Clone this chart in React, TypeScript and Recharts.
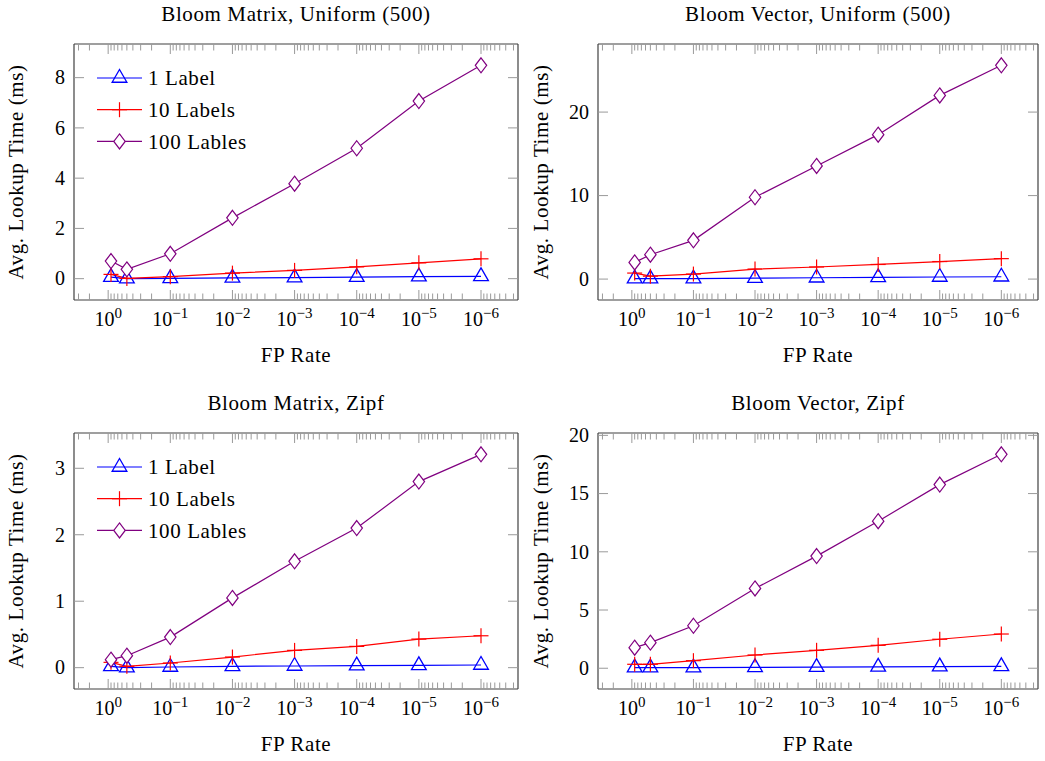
import { LineChart, Line, XAxis, YAxis, Legend } from "recharts";

// false-positive rates used on the x axis (log scale, decreasing to the right)
const fpRates = [0.9, 0.5, 0.1, 0.01, 0.001, 0.0001, 0.00001, 0.000001];

// Bloom Matrix, Uniform (500)
const matrixUniform1 = [0.06, 0.0, 0.01, 0.03, 0.04, 0.06, 0.08, 0.09];
const matrixUniform10 = [0.17, 0.01, 0.08, 0.22, 0.33, 0.47, 0.63, 0.79];
const matrixUniform100 = [0.7, 0.37, 0.99, 2.42, 3.78, 5.19, 7.07, 8.49];

// Bloom Vector, Uniform (500)
const vectorUniform1 = [0.05, 0.05, 0.06, 0.12, 0.16, 0.2, 0.25, 0.28];
const vectorUniform10 = [0.72, 0.35, 0.6, 1.2, 1.45, 1.75, 2.1, 2.45];
const vectorUniform100 = [2.0, 2.92, 4.64, 9.8, 13.55, 17.3, 22.0, 25.6];

// Bloom Matrix, Zipf
const matrixZipf1 = [0.02, 0.0, 0.01, 0.02, 0.025, 0.03, 0.035, 0.04];
const matrixZipf10 = [0.08, 0.02, 0.07, 0.16, 0.26, 0.32, 0.43, 0.48];
const matrixZipf100 = [0.12, 0.18, 0.46, 1.05, 1.6, 2.1, 2.8, 3.21];

// Bloom Vector, Zipf
const vectorZipf1 = [0.05, 0.05, 0.06, 0.08, 0.1, 0.12, 0.14, 0.16];
const vectorZipf10 = [0.34, 0.34, 0.65, 1.14, 1.54, 1.97, 2.49, 2.94];
const vectorZipf100 = [1.77, 2.2, 3.65, 6.85, 9.63, 12.63, 15.77, 18.37];

const seriesNames = ["1 Label", "10 Labels", "100 Lables"];
const seriesColors = ["#0000ff", "#ff0000", "#800080"];

const decadeTicks = [1, 0.1, 0.01, 0.001, 0.0001, 0.00001, 0.000001];
const decadeExponents = ["0", "\u22121", "\u22122", "\u22123", "\u22124", "\u22125", "\u22126"];

const matrixUniformTicks = [0, 2, 4, 6, 8];
const vectorUniformTicks = [0, 10, 20];
const matrixZipfTicks = [0, 1, 2, 3];
const vectorZipfTicks = [0, 5, 10, 15, 20];

const FONT = "'Liberation Serif', 'Times New Roman', serif";
const TEXT_SIZE = 21;
const TEXT_SPACING = 0.6;
const FRAME = { stroke: "#404040", strokeWidth: 1.2 };
const TICK_COLOR = "#9a9a9a";
const MAJOR = 10;
const MINOR = 6.5;

// axis limits enlarged by 10% of the data range, like pgfplots does
function logLimits(xs: number[]): [number, number] {
  const l = xs.map(Math.log10);
  const lo = Math.min(...l);
  const hi = Math.max(...l);
  const pad = (hi - lo) * 0.1;
  return [10 ** (lo - pad), 10 ** (hi + pad)];
}

function linearLimits(values: number[]): [number, number] {
  const lo = Math.min(...values);
  const hi = Math.max(...values);
  const pad = (hi - lo) * 0.1;
  return [lo - pad, hi + pad];
}

const xDomain = logLimits(fpRates);

// major decade ticks plus the 2..9 minor ticks in every decade
const xTicks: number[] = [];
for (let d = 1; d >= -7; d--) {
  for (let k = 1; k <= 9; k++) {
    const v = k * 10 ** d;
    if (v >= xDomain[0] && v <= xDomain[1]) xTicks.push(Number(v.toPrecision(6)));
  }
}

function isDecade(v: number) {
  const l = Math.log10(v);
  return Math.abs(l - Math.round(l)) < 1e-6;
}

function exponentOf(v: number) {
  const i = decadeTicks.findIndex((t) => Math.abs(Math.log10(t) - Math.log10(v)) < 1e-6);
  return i >= 0 ? decadeExponents[i] : "";
}

function BottomTick(props: any) {
  const { x, y, payload } = props;
  const major = isDecade(payload.value);
  return (
    <g>
      <line x1={x} x2={x} y1={y} y2={y - (major ? MAJOR : MINOR)} stroke={TICK_COLOR} strokeWidth={1} />
      {major && (
        <text x={x} y={y + 26} textAnchor="middle" fontSize={20} fill="#000" fontFamily={FONT}>
          <tspan>10</tspan>
          <tspan dy={-8} fontSize={15}>
            {exponentOf(payload.value)}
          </tspan>
        </text>
      )}
    </g>
  );
}

function TopTick(props: any) {
  const { x, y, payload } = props;
  const major = isDecade(payload.value);
  return <line x1={x} x2={x} y1={y} y2={y + (major ? MAJOR : MINOR)} stroke={TICK_COLOR} strokeWidth={1} />;
}

function LeftTick(props: any) {
  const { x, y, payload } = props;
  return (
    <g>
      <line x1={x} x2={x + MAJOR} y1={y} y2={y} stroke={TICK_COLOR} strokeWidth={1} />
      <text x={x - 9} y={y} dy="0.34em" textAnchor="end" fontSize={20} fill="#000" fontFamily={FONT}>
        {payload.value}
      </text>
    </g>
  );
}

function RightTick(props: any) {
  const { x, y } = props;
  return <line x1={x} x2={x - MAJOR} y1={y} y2={y} stroke={TICK_COLOR} strokeWidth={1} />;
}

function Marker({ kind, cx, cy, color }: { kind: number; cx: number; cy: number; color: string }) {
  if (kind === 0) {
    const r = 8.5;
    const pts = [
      [cx, cy - r],
      [cx - r * 0.866, cy + r / 2],
      [cx + r * 0.866, cy + r / 2],
    ]
      .map((p) => p.join(","))
      .join(" ");
    return <polygon points={pts} fill="none" stroke={color} strokeWidth={1.3} />;
  }
  if (kind === 1) {
    const r = 7.5;
    return (
      <g stroke={color} strokeWidth={1.2}>
        <line x1={cx - r} x2={cx + r} y1={cy} y2={cy} />
        <line x1={cx} x2={cx} y1={cy - r} y2={cy + r} />
      </g>
    );
  }
  const rx = 5.7;
  const ry = 7.5;
  const pts = `${cx},${cy - ry} ${cx + rx},${cy} ${cx},${cy + ry} ${cx - rx},${cy}`;
  return <polygon points={pts} fill="#fff" stroke={color} strokeWidth={1.2} />;
}

const seriesKeys = ["one", "ten", "hundred"];

function LegendBox({ payload }: any) {
  const items = (payload || []) as any[];
  return (
    <svg width={180} height={90} style={{ overflow: "visible" }}>
      {items.map((entry, i) => {
        const kind = seriesKeys.indexOf(entry.dataKey);
        const y = 10 + i * 31.7;
        return (
          <g key={entry.value}>
            <line x1={0} x2={45} y1={y} y2={y} stroke={entry.color} strokeWidth={1.2} />
            <Marker kind={kind} cx={22.5} cy={y} color={entry.color} />
            <text
              x={51}
              y={y}
              dy="0.34em"
              fontSize={TEXT_SIZE}
              letterSpacing={TEXT_SPACING}
              fill="#000"
              fontFamily={FONT}
            >
              {entry.value}
            </text>
          </g>
        );
      })}
    </svg>
  );
}

const labelText = { fill: "#000", fontSize: TEXT_SIZE, fontFamily: FONT, letterSpacing: TEXT_SPACING };

type PanelProps = {
  title: string;
  series: number[][];
  yTicks: number[];
  left: number;
  top: number;
  width: number;
  yAxisWidth: number;
  marginRight: number;
  legend: boolean;
};

function Panel({ title, series, yTicks, left, top, width, yAxisWidth, marginRight, legend }: PanelProps) {
  const rows = fpRates.map((fp, i) => ({
    fp,
    one: series[0][i],
    ten: series[1][i],
    hundred: series[2][i],
  }));
  const yDomain = linearLimits(series.flat());

  return (
    <div style={{ position: "absolute", left, top }}>
      <LineChart width={width} height={372} data={rows} margin={{ top: 43, right: marginRight, bottom: 1, left: 0 }}>
        <XAxis
          xAxisId="b"
          dataKey="fp"
          type="number"
          scale="log"
          reversed
          domain={xDomain}
          allowDataOverflow
          ticks={xTicks}
          interval={0}
          height={71}
          tickSize={0}
          tickMargin={0}
          tickLine={false}
          axisLine={FRAME}
          tick={BottomTick}
          label={{ value: "FP Rate", position: "insideBottom", offset: 9, ...labelText }}
        />
        <XAxis
          xAxisId="t"
          orientation="top"
          dataKey="fp"
          type="number"
          scale="log"
          reversed
          domain={xDomain}
          allowDataOverflow
          ticks={xTicks}
          interval={0}
          height={1}
          tickSize={0}
          tickMargin={0}
          tickLine={false}
          axisLine={FRAME}
          tick={TopTick}
          label={{ value: title, position: "top", offset: 22, ...labelText }}
        />
        <YAxis
          yAxisId="l"
          type="number"
          domain={yDomain}
          allowDataOverflow
          ticks={yTicks}
          interval={0}
          width={yAxisWidth}
          tickSize={0}
          tickMargin={0}
          tickLine={false}
          axisLine={FRAME}
          tick={LeftTick}
          label={{
            value: "Avg. Lookup Time (ms)",
            angle: -90,
            position: "insideLeft",
            offset: 16,
            ...labelText,
            style: { textAnchor: "middle" },
          }}
        />
        <YAxis
          yAxisId="r"
          orientation="right"
          type="number"
          domain={yDomain}
          allowDataOverflow
          ticks={yTicks}
          interval={0}
          width={1}
          tickSize={0}
          tickMargin={0}
          tickLine={false}
          axisLine={FRAME}
          tick={RightTick}
        />
        {seriesKeys.map((key, s) => (
          <Line
            key={key}
            xAxisId="b"
            yAxisId="l"
            type="linear"
            dataKey={key}
            name={seriesNames[s]}
            stroke={seriesColors[s]}
            strokeWidth={1.2}
            dot={(p: any) => <Marker key={`${key}-${p.index}`} kind={s} cx={p.cx} cy={p.cy} color={seriesColors[s]} />}
            activeDot={false}
            isAnimationActive={false}
          />
        ))}
        {legend && (
          <Legend
            layout="horizontal"
            verticalAlign="middle"
            align="center"
            wrapperStyle={{ top: 67.5, left: 97, width: 180, height: 90 }}
            content={LegendBox}
          />
        )}
      </LineChart>
    </div>
  );
}

export default function App() {
  return (
    <div
      style={{
        position: "absolute",
        left: 0,
        top: 0,
        width: 1045,
        height: 761,
        background: "#fff",
        overflow: "hidden",
        fontFamily: FONT,
      }}
    >
      <Panel
        title="Bloom Matrix, Uniform (500)"
        series={[matrixUniform1, matrixUniform10, matrixUniform100]}
        yTicks={matrixUniformTicks}
        left={0}
        top={0}
        width={530}
        yAxisWidth={74}
        marginRight={11}
        legend
      />
      <Panel
        title="Bloom Vector, Uniform (500)"
        series={[vectorUniform1, vectorUniform10, vectorUniform100]}
        yTicks={vectorUniformTicks}
        left={525}
        top={0}
        width={520}
        yAxisWidth={73}
        marginRight={6}
        legend={false}
      />
      <Panel
        title="Bloom Matrix, Zipf"
        series={[matrixZipf1, matrixZipf10, matrixZipf100]}
        yTicks={matrixZipfTicks}
        left={0}
        top={389}
        width={530}
        yAxisWidth={74}
        marginRight={11}
        legend
      />
      <Panel
        title="Bloom Vector, Zipf"
        series={[vectorZipf1, vectorZipf10, vectorZipf100]}
        yTicks={vectorZipfTicks}
        left={525}
        top={389}
        width={520}
        yAxisWidth={73}
        marginRight={6}
        legend={false}
      />
    </div>
  );
}
